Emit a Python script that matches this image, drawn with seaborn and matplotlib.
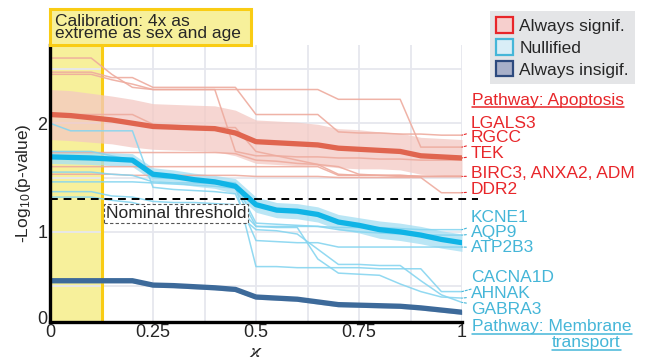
import numpy as np
import pandas as pd
import seaborn as sns
import matplotlib.pyplot as plt
from matplotlib.patches import Patch, Rectangle
from matplotlib.lines import Line2D
from matplotlib.transforms import ScaledTranslation

# eixo x (kappa)
kappa = [0, 0.05, 0.1, 0.15, 0.2, 0.25, 0.3, 0.35, 0.4, 0.45, 0.5,
         0.55, 0.6, 0.65, 0.7, 0.75, 0.8, 0.85, 0.9, 0.95, 1]

# medias por grupo (-log10 p)
signif_mean = [2.08, 2.07, 2.05, 2.03, 2.0, 1.97, 1.963, 1.956, 1.95, 1.91, 1.83,
               1.82, 1.81, 1.80, 1.77, 1.76, 1.75, 1.74, 1.70, 1.69, 1.68]
signif_ci = [0.23, 0.23, 0.225, 0.22, 0.22, 0.21, 0.21, 0.21, 0.21, 0.21, 0.2,
             0.2, 0.2, 0.19, 0.18, 0.18, 0.17, 0.17, 0.17, 0.17, 0.17]
null_mean = [1.69, 1.685, 1.68, 1.67, 1.66, 1.53, 1.51, 1.48, 1.46, 1.42, 1.25,
             1.20, 1.19, 1.16, 1.09, 1.06, 1.02, 1.0, 0.97, 0.93, 0.90]
null_ci = [0.06, 0.06, 0.06, 0.06, 0.06, 0.06, 0.06, 0.06, 0.06, 0.07, 0.07,
           0.07, 0.07, 0.07, 0.07, 0.07, 0.08, 0.08, 0.08, 0.08, 0.08]
insig_mean = [0.55, 0.55, 0.55, 0.55, 0.55, 0.51, 0.505, 0.495, 0.485, 0.47, 0.40,
              0.39, 0.38, 0.355, 0.33, 0.325, 0.32, 0.315, 0.30, 0.28, 0.26]
insig_ci = [0.02] * 21

# genes individuais - apoptose
signif_genes = {
    'RGCC':   [2.60, 2.60, 2.60, 2.45, 2.33, 2.31, 2.31, 2.31, 2.31, 2.31, 2.31,
               2.31, 2.31, 2.31, 2.22, 2.22, 2.22, 2.22, 1.78, 1.78, 1.78],
    'LGALS3': [2.47, 2.47, 2.47, 2.42, 2.42, 2.33, 2.33, 2.33, 2.33, 2.33, 2.08,
               2.08, 2.08, 2.08, 1.92, 1.91, 1.91, 1.90, 1.90, 1.89, 1.89],
    'TEK':    [2.45, 2.45, 2.45, 2.40, 2.36, 2.31, 2.31, 2.31, 2.31, 1.74, 1.70,
               1.70, 1.69, 1.69, 1.68, 1.68, 1.67, 1.67, 1.66, 1.66, 1.66],
    'BIRC3':  [2.08, 2.08, 2.08, 2.08, 2.08, 1.99, 1.98, 1.97, 1.96, 1.96, 1.74,
               1.70, 1.66, 1.62, 1.53, 1.52, 1.52, 1.52, 1.51, 1.51, 1.51],
    'ANXA2':  [1.73, 1.73, 1.73, 1.73, 1.73, 1.73, 1.73, 1.73, 1.73, 1.72, 1.66,
               1.65, 1.63, 1.62, 1.60, 1.53, 1.52, 1.52, 1.51, 1.51, 1.51],
    'ADM':    [1.60, 1.60, 1.60, 1.60, 1.60, 1.60, 1.60, 1.60, 1.60, 1.60, 1.60,
               1.60, 1.60, 1.60, 1.52, 1.52, 1.52, 1.51, 1.51, 1.51, 1.51],
    'DDR2':   [1.53, 1.53, 1.53, 1.53, 1.52, 1.52, 1.52, 1.52, 1.52, 1.52, 1.51,
               1.51, 1.51, 1.51, 1.50, 1.50, 1.50, 1.50, 1.50, 1.36, 1.36],
}
# genes individuais - transporte de membrana
null_genes = {
    'KCNE1':   [1.46, 1.46, 1.46, 1.46, 1.46, 1.45, 1.44, 1.43, 1.42, 1.40, 1.05,
                1.05, 1.05, 1.05, 1.04, 1.04, 1.04, 1.03, 1.02, 1.02, 1.02],
    'AQP9':    [1.74, 1.74, 1.74, 1.70, 1.66, 1.50, 1.49, 1.48, 1.47, 1.45, 1.08,
                1.07, 1.06, 1.05, 1.02, 1.0, 0.99, 0.98, 0.97, 0.97, 0.97],
    'ATP2B3':  [2.00, 1.93, 1.93, 1.93, 1.93, 1.41, 1.39, 1.38, 1.37, 1.35, 0.92,
                0.91, 0.90, 0.90, 0.86, 0.86, 0.86, 0.86, 0.86, 0.86, 0.86],
    'CACNA1D': [1.55, 1.55, 1.55, 1.53, 1.52, 1.46, 1.45, 1.45, 1.44, 1.43, 0.68,
                0.68, 0.67, 0.67, 0.67, 0.67, 0.66, 0.66, 0.66, 0.45, 0.45],
    'AHNAK':   [1.37, 1.37, 1.37, 1.33, 1.32, 1.28, 1.27, 1.27, 1.26, 1.25, 1.05,
                1.04, 1.04, 0.75, 0.62, 0.61, 0.60, 0.52, 0.45, 0.40, 0.39],
    'GABRA3':  [1.32, 1.32, 1.32, 1.29, 1.27, 1.22, 1.21, 1.20, 1.19, 1.18, 1.02,
                1.01, 0.98, 0.84, 0.70, 0.70, 0.69, 0.69, 0.55, 0.42, 0.35],
}

# rotulos a direita: (texto, valor final da linha, posicao y em pixels do topo)
signif_labels = [('LGALS3', 1.89, 123), ('RGCC', 1.78, 138), ('TEK', 1.68, 154),
                 ('BIRC3, ANXA2, ADM', 1.51, 173), ('DDR2', 1.36, 190)]
null_labels = [('KCNE1', 1.02, 217), ('AQP9', 0.97, 232), ('ATP2B3', 0.86, 248),
               ('CACNA1D', 0.45, 278), ('AHNAK', 0.39, 294), ('GABRA3', 0.35, 309)]

threshold = -np.log10(0.05)
calib_end = 0.125

RED = '#e8262a'
RED_MEAN = '#e0654f'
RED_THIN = '#eeab9e'
RED_BAND = '#f3c9c3'
CYAN = '#45b6d8'
CYAN_MEAN = '#10b4e6'
CYAN_THIN = '#86d5f0'
CYAN_BAND = '#a9e0f3'
NAVY = '#3d6a9a'
NAVY_BAND = '#9fb2cc'
YELLOW = '#f7f09b'
GOLD = '#f9cc14'
FS = 12.5

sns.set_theme(style='white')
plt.rcParams['font.family'] = ['Liberation Sans', 'DejaVu Sans']
plt.rcParams['mathtext.fontset'] = 'cm'

W, H = 645, 360
fig = plt.figure(figsize=(W / 100, H / 100), dpi=100)
ax = fig.add_axes([50 / W, 1 - 322 / H, (462 - 50) / W, (322 - 45) / H])
ymin, ymax = 0.17, 2.72

ax.axvspan(0, calib_end, color=YELLOW, zorder=0, lw=0)
ax.axvline(calib_end, color=GOLD, lw=2.2, zorder=1)

bands = [(signif_mean, signif_ci, RED_BAND, 0.75),
         (null_mean, null_ci, CYAN_BAND, 0.8),
         (insig_mean, insig_ci, NAVY_BAND, 0.6)]
for m, ci, col, a in bands:
    m = np.array(m); ci = np.array(ci)
    ax.fill_between(kappa, m - ci, m + ci, color=col, alpha=a, lw=0, zorder=2)

for name, vals in signif_genes.items():
    sns.lineplot(x=kappa, y=vals, ax=ax, color=RED_THIN, lw=1.1, alpha=0.9, zorder=3)
for name, vals in null_genes.items():
    sns.lineplot(x=kappa, y=vals, ax=ax, color=CYAN_THIN, lw=1.1, alpha=0.9, zorder=3)

sns.lineplot(x=kappa, y=signif_mean, ax=ax, color=RED_MEAN, lw=3.8, zorder=4)
sns.lineplot(x=kappa, y=null_mean, ax=ax, color=CYAN_MEAN, lw=3.8, zorder=4)
sns.lineplot(x=kappa, y=insig_mean, ax=ax, color=NAVY, lw=3.8, zorder=4)

ax.plot([0, 1.04], [threshold, threshold], color='black', ls=(0, (4, 3)), lw=1.4,
        zorder=5, clip_on=False)
ax.text(0.135, threshold - 0.065, 'Nominal threshold', fontsize=FS, va='top', ha='left',
        zorder=6, bbox=dict(boxstyle='square,pad=0.1', fc='white', ec='#555555',
                            ls=(0, (3, 2)), lw=0.8))

ax.set_xlim(0, 1)
ax.set_ylim(ymin, ymax)
ax.set_xticks([0, 0.125, 0.25, 0.375, 0.5, 0.625, 0.75, 0.875, 1])
ax.set_xticklabels(['0', '', '0.25', '', '0.5', '', '0.75', '', '1'], fontsize=13)
ax.set_yticks([ymin, 0.5, 1, 1.5, 2, 2.5])
ax.set_yticklabels(['0', '', '1', '', '2', ''], fontsize=13)
ax.tick_params(axis='x', length=0, pad=1.5)
ax.tick_params(axis='y', length=0, pad=2)
# o "0" do eixo y fica um pouco acima do canto
lab0 = ax.get_yticklabels()[0]
lab0.set_transform(lab0.get_transform() + ScaledTranslation(0, 4 / 100, fig.dpi_scale_trans))
ax.grid(True, color='#e6e7ee', lw=1.3)
ax.set_axisbelow(True)
for s in ['top', 'right']:
    ax.spines[s].set_visible(False)
for s in ['left', 'bottom']:
    ax.spines[s].set_color('black')
    ax.spines[s].set_linewidth(2.4)
    ax.spines[s].set_zorder(7)
ax.set_ylabel(r'-Log$_{\mathregular{10}}$(p-value)', fontsize=FS, labelpad=3)

# caixa de calibracao acima do eixo
fig.patches.append(Rectangle((50 / W, 1 - 45 / H), (251 - 50) / W, (45 - 9) / H,
                             transform=fig.transFigure, fc=YELLOW, ec=GOLD, lw=2.2))
fig.text(55 / W, 1 - 27.5 / H, 'Calibration: 4x as\nextreme as sex and age', fontsize=FS,
         va='center', ha='left', linespacing=0.82)

# legenda
handles = [Patch(fc='#f6cfcd', ec=RED, lw=1.6, label='Always signif.'),
           Patch(fc='#d9eef7', ec=CYAN, lw=1.6, label='Nullified'),
           Patch(fc='#a8b0c9', ec='#2d4a7e', lw=1.6, label='Always insigif.')]
fig.legend(handles=handles, loc='upper right', bbox_to_anchor=(635 / W, 1 - 11 / H),
           frameon=True, facecolor='#e4e5e7', edgecolor='none', framealpha=1,
           fancybox=False, fontsize=FS, handlelength=1.0, handleheight=1.0,
           handletextpad=0.35, labelspacing=0.3, borderpad=0.35, borderaxespad=0)

# rotulos dos genes com linhas tracejadas
for items, col in [(signif_labels, RED), (null_labels, CYAN)]:
    for txt, v, ypx in items:
        ax.annotate(txt, xy=(1, v), xycoords='data', xytext=(471, H - ypx),
                    textcoords='figure pixels', fontsize=FS, color=col,
                    va='center', ha='left', annotation_clip=False,
                    arrowprops=dict(arrowstyle='-', color=col, lw=0.8,
                                    ls=(0, (2, 1.5)), shrinkA=1, shrinkB=0))

paths = [fig.text(472 / W, 1 - 100 / H, 'Pathway: Apoptosis', color=RED, fontsize=FS, va='center'),
         fig.text(472 / W, 1 - 327 / H, 'Pathway: Membrane', color=CYAN, fontsize=FS, va='center'),
         fig.text(552 / W, 1 - 343 / H, 'transport', color=CYAN, fontsize=FS, va='center')]
fig.canvas.draw()
r = fig.canvas.get_renderer()
for t in paths:
    bb = t.get_window_extent(r)
    fig.lines.append(Line2D([bb.x0 / W, bb.x1 / W], [bb.y0 / H + 0.5 / H] * 2,
                            transform=fig.transFigure, color=t.get_color(), lw=1.1))

# rotulo do eixo x logo abaixo dos ticks
tick_bottom = min(t.get_window_extent(r).y0 for t in ax.get_xticklabels() if t.get_text())
fig.text(256 / W, (tick_bottom - 0.5) / H, r'$\varkappa$', fontsize=15, ha='center', va='top')

fig.savefig('out.png', dpi=100)
